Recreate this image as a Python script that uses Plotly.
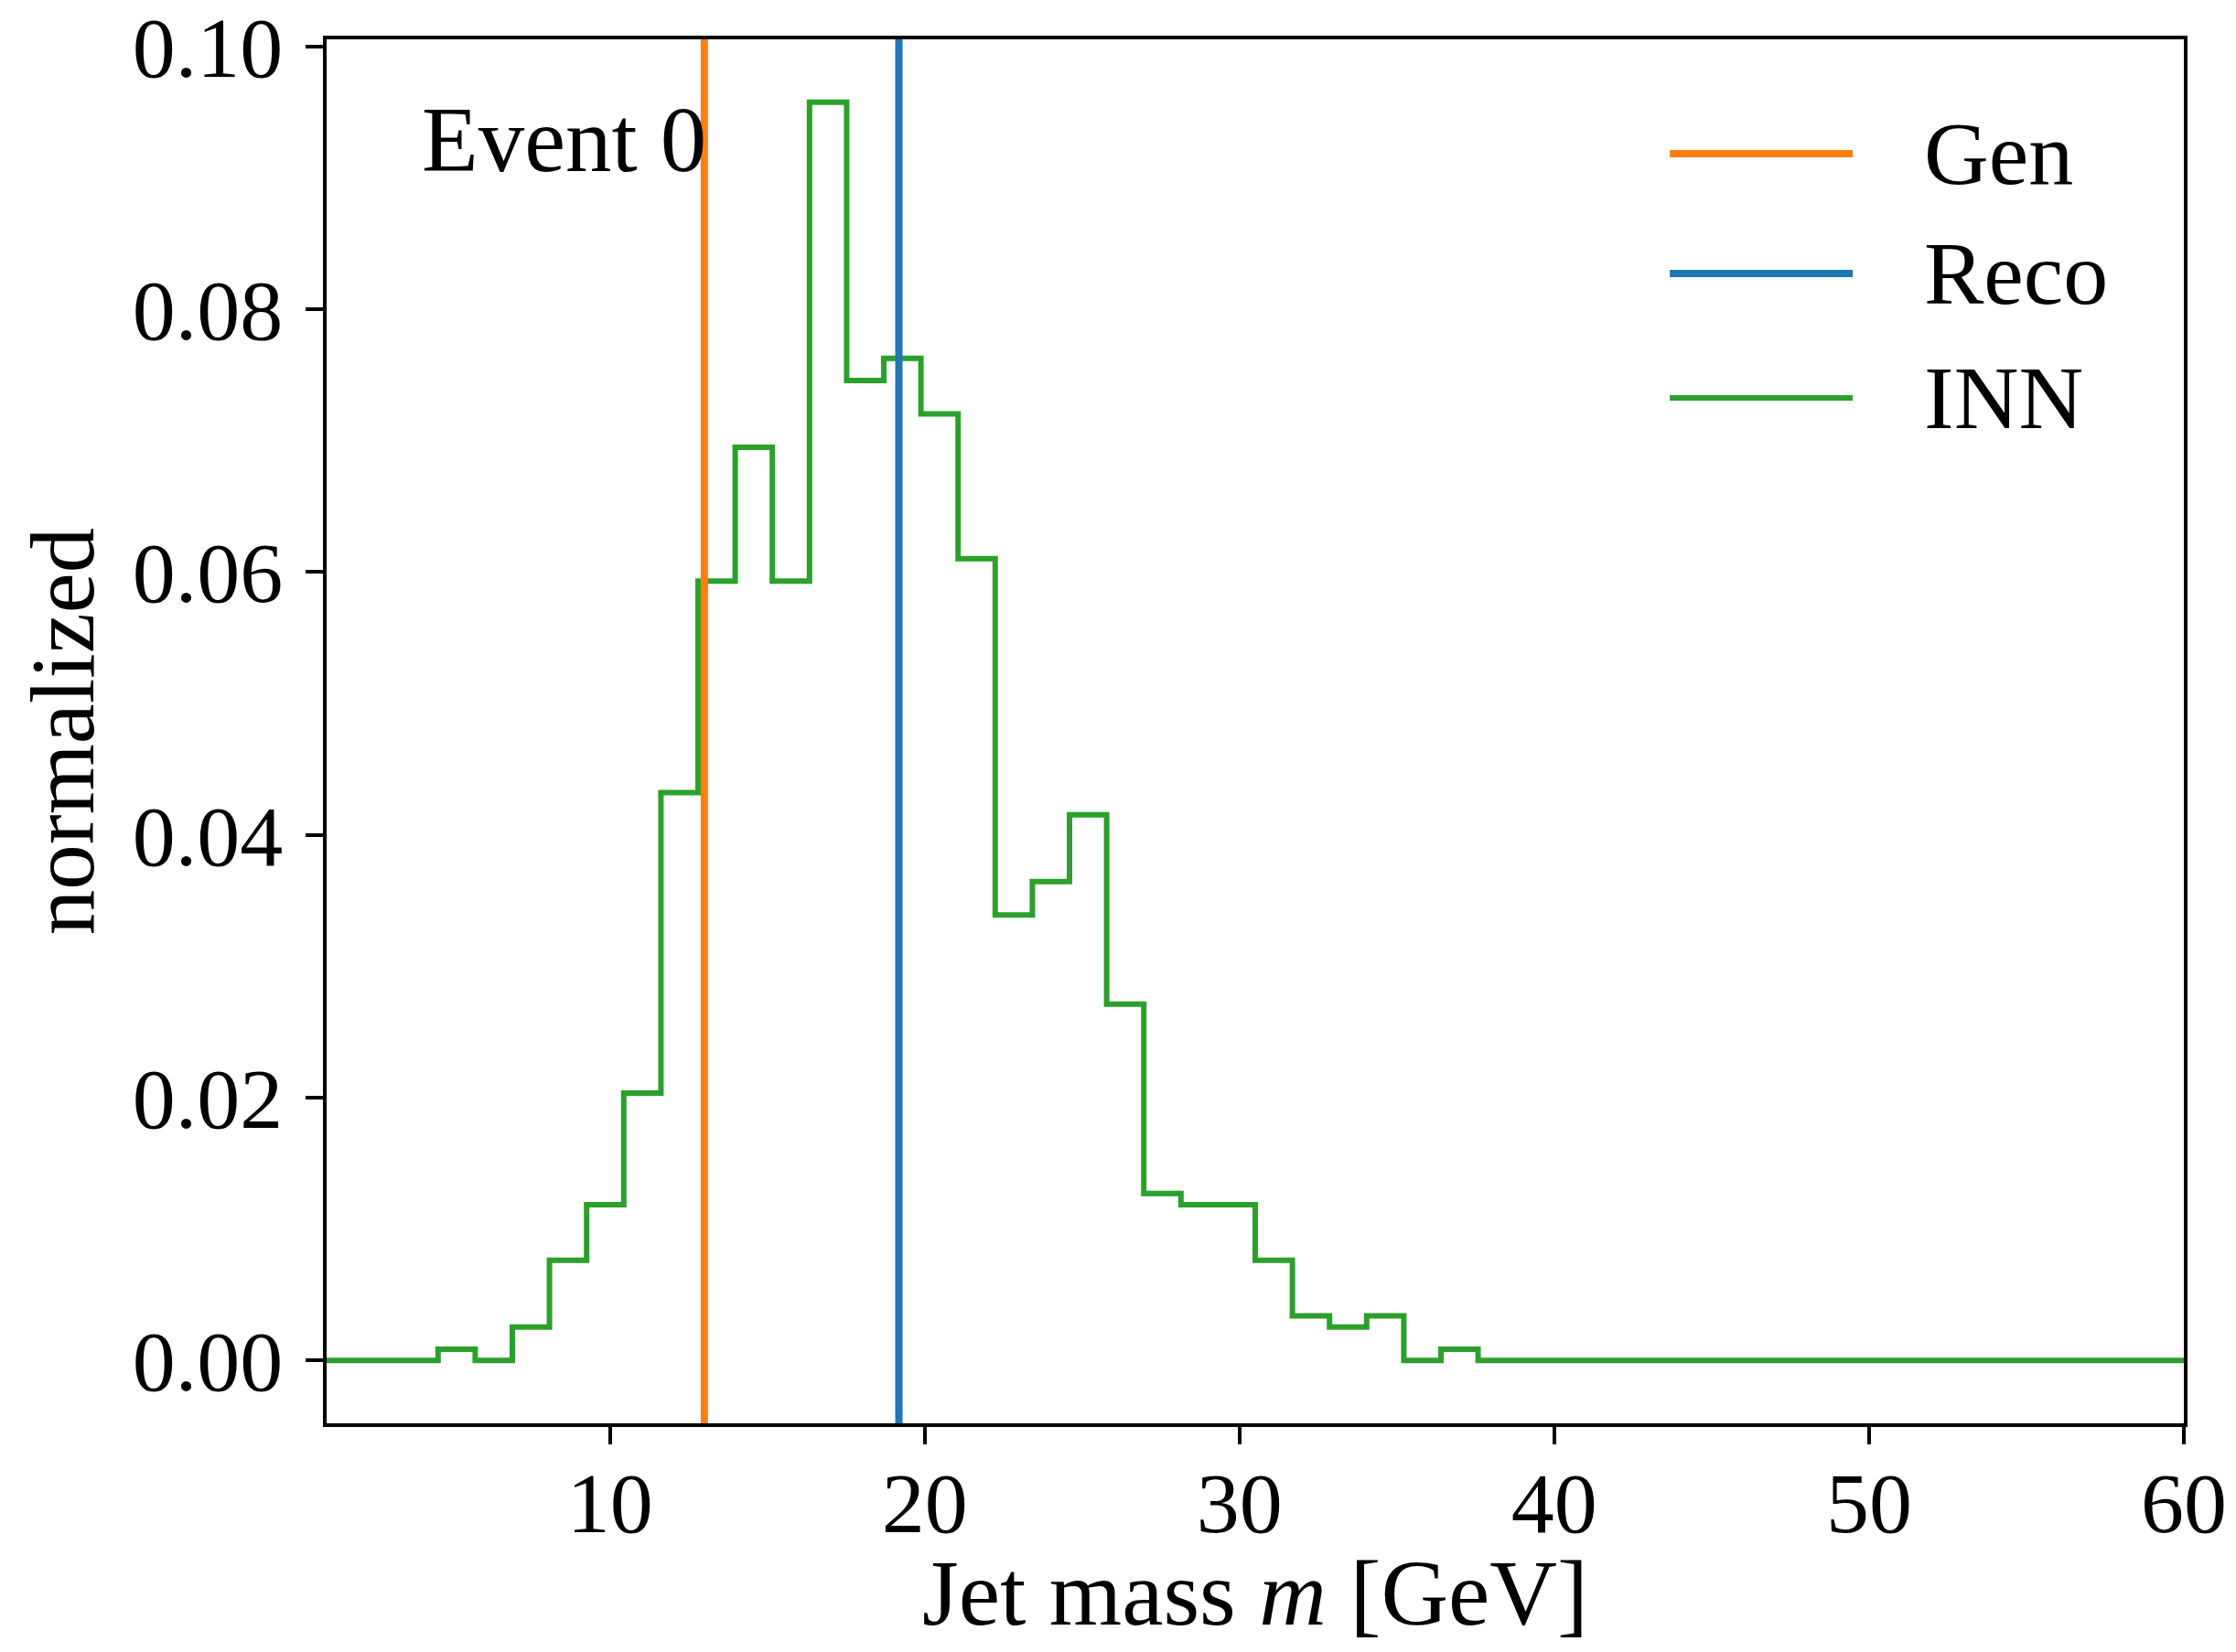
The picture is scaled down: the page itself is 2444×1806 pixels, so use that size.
import numpy as np
import plotly.graph_objects as go

# ---- data ----
bin_lo, bin_hi, n_bins = 1.0, 60.0, 50
inn_density = [
    0.0, 0.0, 0.0, 0.00085, 0.0, 0.00254, 0.00763, 0.01186, 0.02034, 0.04322,
    0.05932, 0.06949, 0.05932, 0.09576, 0.07458, 0.07627, 0.07203, 0.06102, 0.03390, 0.03644,
    0.04153, 0.02712, 0.01271, 0.01186, 0.01186, 0.00763, 0.00339, 0.00254, 0.00339, 0.0,
    0.00085, 0.0, 0.0, 0.0, 0.0, 0.0, 0.0, 0.0, 0.0, 0.0,
    0.0, 0.0, 0.0, 0.0, 0.0, 0.0, 0.0, 0.0, 0.0, 0.0,
]
gen_mass = 13.0
reco_mass = 19.18
x_ticks = [10, 20, 30, 40, 50, 60]
y_ticks = [0.00, 0.02, 0.04, 0.06, 0.08, 0.10]
legend_labels = ["Gen", "Reco", "INN"]

C_GEN, C_RECO, C_INN = "#ff7f0e", "#1f77b4", "#2ca02c"
FONT = "Liberation Serif"

edges = np.linspace(bin_lo, bin_hi, n_bins + 1)
y_step = list(inn_density) + [inn_density[-1]]

ymax = max(inn_density)
ypad = 0.05 * ymax
y_range = [0 - ypad, ymax + ypad]

fig = go.Figure()
fig.add_trace(go.Scatter(
    x=edges, y=y_step, mode="lines", line=dict(shape="hv", color=C_INN, width=6),
    name="INN", showlegend=False, hoverinfo="skip"))

fig.add_vline(x=gen_mass, line=dict(color=C_GEN, width=8), layer="above")
fig.add_vline(x=reco_mass, line=dict(color=C_RECO, width=8), layer="above")

# manual legend (long line samples as in the reference)
leg_colors = [C_GEN, C_RECO, C_INN]
leg_widths = [8, 8, 6]
leg_y = [0.9174, 0.8308, 0.7409]
for lab, col, w, yy in zip(legend_labels, leg_colors, leg_widths, leg_y):
    fig.add_shape(type="line", xref="paper", yref="paper", x0=0.7232, x1=0.8217,
                  y0=yy, y1=yy, line=dict(color=col, width=w))
    fig.add_annotation(text=lab, xref="paper", yref="paper", x=0.8591, y=yy,
                       xanchor="left", yanchor="middle", showarrow=False,
                       font=dict(family=FONT, size=98, color="black"))

fig.add_annotation(text="Event 0", xref="paper", yref="paper", x=0.050, y=0.9273,
                   xanchor="left", yanchor="middle", showarrow=False,
                   font=dict(family=FONT, size=101, color="black"))

axis_common = dict(
    showline=True, linecolor="black", linewidth=4, mirror=True,
    ticks="outside", ticklen=19, tickwidth=4, tickcolor="black",
    showgrid=False, zeroline=False, ticklabeloverflow="allow",
    tickfont=dict(family=FONT, size=94, color="black"),
)

fig.update_xaxes(range=[bin_lo, bin_hi], tickvals=x_ticks,
                 ticktext=[str(v) for v in x_ticks], ticklabelstandoff=-17,
                 title=dict(text="Jet mass <i>m</i> [GeV]", standoff=44,
                            font=dict(family=FONT, size=102, color="black")),
                 **axis_common)
fig.update_yaxes(range=y_range, tickvals=y_ticks,
                 ticktext=[f"{v:.2f}" for v in y_ticks], ticklabelstandoff=6,
                 title=dict(text="normalized", standoff=10,
                            font=dict(family=FONT, size=99, color="black")),
                 **axis_common)

# page body has an 8px margin; compensate so the plot area lands where the reference has it
fig.update_layout(
    width=2428, height=1790,
    margin=dict(l=349, r=49, t=35, b=242, autoexpand=False),
    paper_bgcolor="white", plot_bgcolor="white",
    showlegend=False,
    font=dict(family=FONT, color="black"),
)

fig.write_html("out.html")
